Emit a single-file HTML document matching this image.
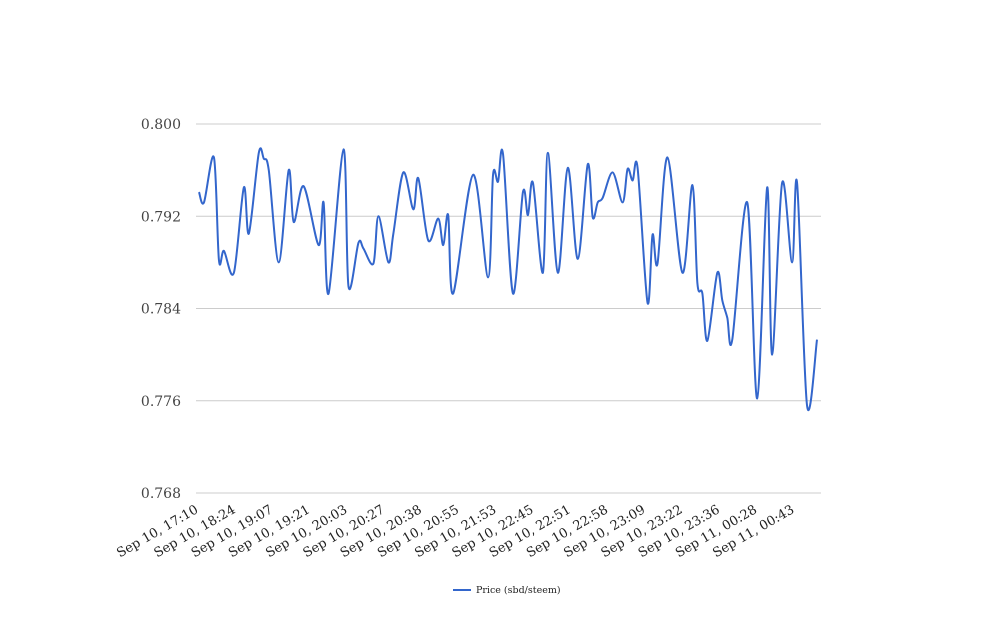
<!DOCTYPE html>
<html><head><meta charset="utf-8"><style>
html,body{margin:0;padding:0;background:#fff;}
svg text{font-family:"DejaVu Serif","Liberation Serif",serif;}
</style></head><body>
<svg width="1008" height="616" xmlns="http://www.w3.org/2000/svg">
<g id="grid"></g><g id="yl"></g><g id="xl"></g><g id="series"></g>
<g>
<line x1="453" y1="590" x2="471" y2="590" stroke="#3366cc" stroke-width="2"/>
<text x="476" y="593" font-size="9.5" fill="#222">Price (sbd/steem)</text>
</g>
</svg>
<script>
const xLabels=["Sep 10, 17:10","Sep 10, 18:24","Sep 10, 19:07","Sep 10, 19:21","Sep 10, 20:03","Sep 10, 20:27","Sep 10, 20:38","Sep 10, 20:55","Sep 10, 21:53","Sep 10, 22:45","Sep 10, 22:51","Sep 10, 22:58","Sep 10, 23:09","Sep 10, 23:22","Sep 10, 23:36","Sep 11, 00:28","Sep 11, 00:43"];
const yTicks=[0.768,0.776,0.784,0.792,0.800];
const sampleIdx=[0,1,3,4,5,7,9,10,12,13,14,16,18,19,21,24,25,26,29,30,32,33,35,36,38,39,41,43,44,46,48,49,50,51,55,58,59,60,61,63,65,66,67,69,70,72,74,76,78,79,80,81,83,85,86,87,88,90,91,92,94,97,99,100,101,102,104,105,106,107,110,112,114,115,117,119,120,122,124];
const prices=[.7941,.7932,.7971,.7882,.7890,.7871,.7945,.7905,.7975,.7970,.7960,.7880,.7960,.7915,.7946,.7895,.7932,.7853,.7978,.7859,.7897,.7892,.7879,.7920,.7880,.7905,.7958,.7926,.7953,.7899,.7918,.7895,.7921,.7853,.7956,.7867,.7956,.7950,.7974,.7853,.7941,.7921,.7949,.7871,.7975,.7871,.7962,.7883,.7965,.7919,.7932,.7936,.7958,.7932,.7961,.7951,.7962,.7845,.7904,.7879,.7971,.7871,.7947,.7862,.7853,.7812,.7871,.7847,.7832,.7813,.7932,.7762,.7945,.7800,.7949,.7880,.7949,.7756,.7813];
const NS="http://www.w3.org/2000/svg";
const X0=199,X1=817,NMAX=124,PL=196,PR=821,YT=124,YB=493,VMIN=0.768,VMAX=0.800;
const xs=i=>X0+(X1-X0)*i/NMAX;
const ys=v=>YB-(v-VMIN)/(VMAX-VMIN)*(YB-YT);
function mk(t,a,p){const e=document.createElementNS(NS,t);for(const k in a)e.setAttribute(k,a[k]);p.appendChild(e);return e;}
const grid=document.getElementById('grid'),yl=document.getElementById('yl'),xl=document.getElementById('xl'),ser=document.getElementById('series');
yTicks.forEach(v=>{
 const l=mk('line',{x1:PL,x2:PR,y1:ys(v),y2:ys(v),stroke:'#cccccc','stroke-width':1},grid);
 
 
 const t=mk('text',{x:181,y:ys(v)+5,'text-anchor':'end','font-size':14,fill:'#444'},yl);
 t.textContent=v.toFixed(3);
 
 
});
const step=(795-199)/(xLabels.length-1);
xLabels.forEach((s,i)=>{
 const x=199+i*step,y=512;
 const t=mk('text',{x:x,y:y,'text-anchor':'end','font-size':13,fill:'#222',transform:`rotate(-30 ${x} ${y})`},xl);
 t.textContent=s;
 
 
});
const pts=sampleIdx.map((i,k)=>[xs(i),ys(prices[k])]);
let d=`M${pts[0][0]},${pts[0][1]}`;
for(let k=0;k<pts.length-1;k++){
 const p0=pts[Math.max(0,k-1)],p1=pts[k],p2=pts[k+1],p3=pts[Math.min(pts.length-1,k+2)];
 const tt=0.16;
 const c1=[p1[0]+(p2[0]-p0[0])*tt,p1[1]+(p2[1]-p0[1])*tt];
 const c2=[p2[0]-(p3[0]-p1[0])*tt,p2[1]-(p3[1]-p1[1])*tt];
 d+=` C${c1[0]},${c1[1]} ${c2[0]},${c2[1]} ${p2[0]},${p2[1]}`;
}
const path=mk('path',{d:d,fill:'none',stroke:'#3366cc','stroke-width':2},ser);


</script>
</body></html>
